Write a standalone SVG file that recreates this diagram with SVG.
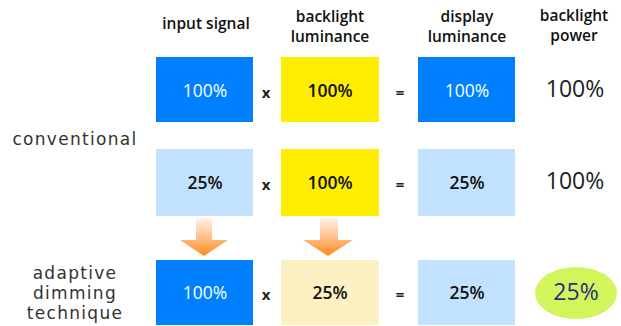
<svg xmlns="http://www.w3.org/2000/svg" width="621" height="326" viewBox="0 0 621 326">
  <defs>
    <linearGradient id="arrowFill" x1="0" y1="0" x2="0" y2="1">
      <stop offset="0" stop-color="#fff3ea"/>
      <stop offset="0.5" stop-color="#fdc08a"/>
      <stop offset="1" stop-color="#ff8a1e"/>
    </linearGradient>
    <style>
      text { font-family: "Open Sans", "DejaVu Sans", sans-serif; }
      .hdr { font-size: 15.5px; font-weight: 600; fill: #111; text-anchor: middle; }
      .row { font-family: "DejaVu Sans", sans-serif; font-size: 17px; letter-spacing: 1.3px; fill: #333; text-anchor: middle; }
      .val { font-size: 17.5px; text-anchor: middle; }
      .w { fill: #ffffff; }
      .k { fill: #111; font-weight: 600; }
      .op { font-size: 15px; font-weight: bold; fill: #222; text-anchor: middle; }
      .pow { font-size: 23px; fill: #222; text-anchor: middle; }
      .blue { fill: #0080ff; }
      .yellow { fill: #ffee00; }
      .lblue { fill: #c2e1ff; }
      .lyellow { fill: #fdf0c2; }
      .arrow { fill: url(#arrowFill); }
    </style>
  </defs>

  <!-- column headings -->
  <g id="headers">
    <text class="hdr" x="206" y="29">input signal</text>
    <text class="hdr" x="330" y="22">backlight</text>
    <text class="hdr" x="330" y="42">luminance</text>
    <text class="hdr" x="467" y="22">display</text>
    <text class="hdr" x="467" y="42">luminance</text>
    <text class="hdr" x="574" y="21">backlight</text>
    <text class="hdr" x="574" y="41">power</text>
  </g>

  <!-- row labels -->
  <g id="label-conventional">
    <text class="row" x="75" y="145">conventional</text>
  </g>
  <g id="label-adaptive">
    <text class="row" x="75" y="279">adaptive</text>
    <text class="row" x="75" y="299">dimming</text>
    <text class="row" x="75" y="319">technique</text>
  </g>

  <!-- conventional, full signal -->
  <g id="r1-input">
    <rect class="blue" x="156" y="57" width="97" height="65"/>
    <text class="val w" x="205" y="97">100%</text>
  </g>
  <text class="op" x="266" y="98">x</text>
  <g id="r1-backlight">
    <rect class="yellow" x="281" y="57" width="98" height="65"/>
    <text class="val k" x="330" y="97">100%</text>
  </g>
  <text class="op" x="400" y="98">=</text>
  <g id="r1-display">
    <rect class="blue" x="418" y="57" width="97" height="65"/>
    <text class="val w" x="467" y="97">100%</text>
  </g>
  <g id="r1-power">
    <text class="pow" x="575" y="97">100%</text>
  </g>

  <!-- conventional, dim signal -->
  <g id="r2-input">
    <rect class="lblue" x="156" y="149" width="97" height="67"/>
    <text class="val k" x="205" y="189">25%</text>
  </g>
  <text class="op" x="266" y="190">x</text>
  <g id="r2-backlight">
    <rect class="yellow" x="281" y="149" width="98" height="67"/>
    <text class="val k" x="330" y="189">100%</text>
  </g>
  <text class="op" x="400" y="190">=</text>
  <g id="r2-display">
    <rect class="lblue" x="418" y="149" width="97" height="67"/>
    <text class="val k" x="467" y="189">25%</text>
  </g>
  <g id="r2-power">
    <text class="pow" x="575" y="189">100%</text>
  </g>

  <!-- transition arrows -->
  <g id="connectors">
    <path class="arrow" d="M196 218 H212 V240 H228 L204 256 L180 240 H196 Z"/>
    <path class="arrow" d="M320 218 H338 V240 H353 L328 256 L303 240 H320 Z"/>
  </g>

  <!-- adaptive dimming -->
  <g id="r3-input">
    <rect class="blue" x="156" y="260" width="97" height="65"/>
    <text class="val w" x="205" y="299">100%</text>
  </g>
  <text class="op" x="266" y="300">x</text>
  <g id="r3-backlight">
    <rect class="lyellow" x="281" y="260" width="98" height="65"/>
    <text class="val k" x="330" y="299">25%</text>
  </g>
  <text class="op" x="400" y="300">=</text>
  <g id="r3-display">
    <rect class="lblue" x="418" y="260" width="97" height="65"/>
    <text class="val k" x="467" y="299">25%</text>
  </g>
  <g id="r3-power">
    <ellipse cx="576" cy="293" rx="41" ry="26" fill="#d2f55c"/>
    <text class="pow" x="576" y="300" style="fill:#2a3080">25%</text>
  </g>
</svg>
